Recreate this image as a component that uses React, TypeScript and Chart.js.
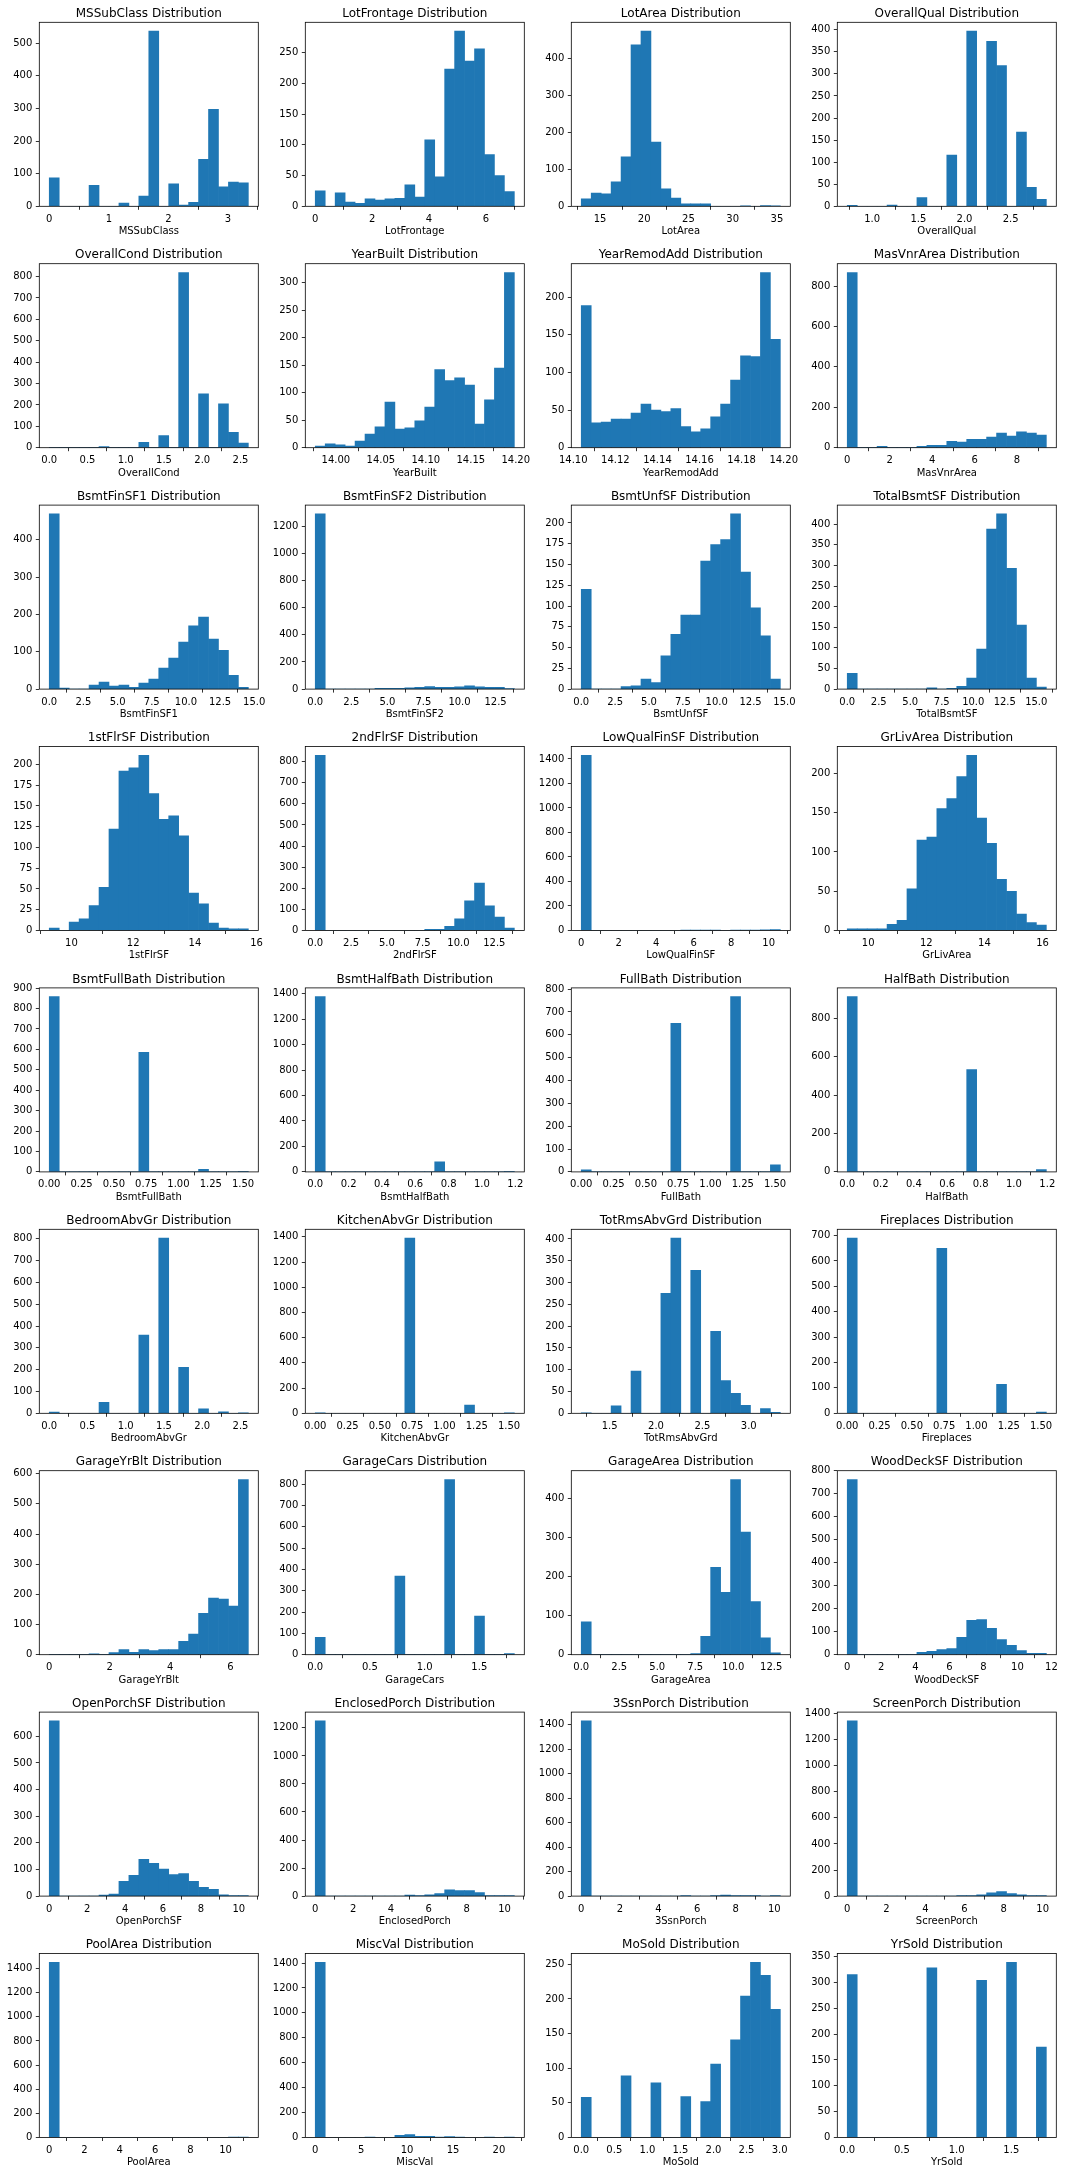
import React, { useEffect, useRef } from 'react';
import { Chart, registerables } from 'chart.js';

Chart.register(...registerables);

// ---------- data ----------
const featureNames = [
  'MSSubClass', 'LotFrontage', 'LotArea', 'OverallQual',
  'OverallCond', 'YearBuilt', 'YearRemodAdd', 'MasVnrArea',
  'BsmtFinSF1', 'BsmtFinSF2', 'BsmtUnfSF', 'TotalBsmtSF',
  '1stFlrSF', '2ndFlrSF', 'LowQualFinSF', 'GrLivArea',
  'BsmtFullBath', 'BsmtHalfBath', 'FullBath', 'HalfBath',
  'BedroomAbvGr', 'KitchenAbvGr', 'TotRmsAbvGrd', 'Fireplaces',
  'GarageYrBlt', 'GarageCars', 'GarageArea', 'WoodDeckSF',
  'OpenPorchSF', 'EnclosedPorch', '3SsnPorch', 'ScreenPorch',
  'PoolArea', 'MiscVal', 'MoSold', 'YrSold',
];

// lowest and highest bin edge of each histogram (20 bins each)
const binMin = [
  0, 0, 12.879, 0.7305,
  0, 13.9771, 14.1038, 0,
  0, 0, 0, 0,
  9.28, 0, 0, 9.28,
  0, 0, 0, 0,
  0, 0, 1.1943, 0,
  0, 0, 0, 0,
  0, 0, 0, 0,
  0, 0, 0, 0,
];
const binMax = [
  3.341, 7.0, 35.391, 2.8859,
  2.6026, 14.1984, 14.1984, 9.38,
  14.57, 13.8, 14.7, 15.8,
  15.733, 13.9, 10.62, 16.13,
  1.5409, 1.1943, 1.5409, 1.1943,
  2.6026, 1.5409, 3.3408, 1.5409,
  6.59, 1.8203, 13.1, 11.7,
  10.5, 10.52, 10.31, 10.19,
  11.29, 21.68, 3.0114, 1.8203,
];

const countsMSSubClass = [87, 0, 0, 0, 64, 0, 0, 10, 0, 31, 537, 0, 69, 4, 12, 144, 297, 60, 74, 72];
const countsLotFrontage = [25, 0, 22, 7, 5, 12, 10, 12, 13, 35, 15, 108, 48, 223, 285, 236, 256, 84, 50, 24];
const countsLotArea = [20, 36, 34, 66, 134, 437, 474, 174, 47, 22, 7, 7, 7, 0, 0, 0, 1, 0, 2, 1];
const countsOverallQual = [2, 0, 0, 0, 3, 0, 0, 20, 0, 0, 116, 0, 397, 0, 374, 319, 0, 168, 43, 16];
const countsOverallCond = [1, 0, 0, 0, 0, 5, 0, 0, 0, 25, 0, 57, 0, 819, 0, 252, 0, 205, 72, 22];
const countsYearBuilt = [3, 7, 5, 3, 12, 25, 38, 83, 34, 36, 49, 74, 142, 122, 127, 114, 43, 87, 145, 319];
const countsYearRemodAdd = [189, 33, 34, 38, 38, 46, 58, 50, 48, 52, 28, 21, 25, 41, 58, 90, 122, 121, 233, 144];
const countsMasVnrArea = [867, 0, 0, 7, 0, 0, 0, 7, 12, 12, 32, 28, 42, 42, 52, 72, 58, 78, 72, 62];
const countsBsmtFinSF1 = [469, 3, 0, 0, 11, 19, 8, 11, 5, 16, 27, 56, 83, 126, 169, 193, 134, 104, 37, 5];
const countsBsmtFinSF2 = [1293, 0, 0, 0, 0, 0, 6, 6, 6, 9, 13, 19, 13, 13, 17, 24, 17, 13, 13, 1];
const countsBsmtUnfSF = [120, 0, 0, 0, 3, 4, 12, 8, 40, 66, 89, 89, 154, 174, 180, 211, 141, 98, 64, 12];
const countsTotalBsmtSF = [38, 0, 0, 0, 0, 0, 0, 0, 3, 0, 2, 7, 27, 97, 388, 425, 293, 155, 27, 5];
const counts1stFlrSF = [3, 0, 10, 14, 30, 52, 122, 192, 196, 211, 165, 134, 138, 114, 45, 32, 9, 3, 2, 2];
const counts2ndFlrSF = [830, 0, 0, 0, 0, 0, 0, 0, 0, 0, 0, 5, 5, 20, 55, 141, 225, 117, 64, 11];
const countsLowQualFinSF = [1430, 0, 0, 0, 0, 0, 0, 0, 0, 0, 1, 1, 1, 1, 0, 2, 2, 3, 5, 7];
const countsGrLivArea = [2, 2, 2, 2, 8, 13, 53, 115, 119, 155, 168, 196, 223, 143, 111, 65, 50, 21, 10, 7];
const countsBsmtFullBath = [858, 0, 0, 0, 0, 0, 0, 0, 0, 586, 0, 0, 0, 0, 0, 13, 0, 0, 0, 1];
const countsBsmtHalfBath = [1376, 0, 0, 0, 0, 0, 0, 0, 0, 0, 0, 0, 80, 0, 0, 0, 0, 0, 0, 2];
const countsFullBath = [9, 0, 0, 0, 0, 0, 0, 0, 0, 650, 0, 0, 0, 0, 0, 767, 0, 0, 0, 31];
const countsHalfBath = [912, 0, 0, 0, 0, 0, 0, 0, 0, 0, 0, 0, 532, 0, 0, 0, 0, 0, 0, 12];
const countsBedroomAbvGr = [6, 0, 0, 0, 0, 50, 0, 0, 0, 358, 0, 803, 0, 211, 0, 21, 0, 7, 0, 1];
const countsKitchenAbvGr = [1, 0, 0, 0, 0, 0, 0, 0, 0, 1390, 0, 0, 0, 0, 0, 65, 0, 0, 0, 2];
const countsTotRmsAbvGrd = [1, 0, 0, 17, 0, 97, 0, 0, 275, 402, 0, 328, 0, 188, 75, 46, 18, 0, 11, 2];
const countsFireplaces = [690, 0, 0, 0, 0, 0, 0, 0, 0, 650, 0, 0, 0, 0, 0, 114, 0, 0, 0, 5];
const countsGarageYrBlt = [1, 0, 0, 0, 3, 0, 7, 17, 8, 17, 14, 17, 17, 44, 68, 137, 188, 184, 161, 581];
const countsGarageCars = [81, 0, 0, 0, 0, 0, 0, 0, 369, 0, 0, 0, 0, 822, 0, 0, 181, 0, 0, 5];
const countsGarageArea = [84, 0, 0, 0, 0, 0, 0, 0, 0, 0, 0, 3, 47, 224, 160, 449, 314, 136, 43, 5];
const countsWoodDeckSF = [762, 0, 0, 0, 0, 0, 0, 10, 15, 22, 27, 76, 149, 153, 115, 66, 41, 18, 6, 6];
const countsOpenPorchSF = [658, 0, 0, 0, 0, 4, 8, 55, 78, 138, 123, 101, 81, 85, 55, 33, 25, 5, 1, 2];
const countsEnclosedPorch = [1250, 0, 0, 0, 0, 0, 0, 0, 0, 8, 3, 9, 18, 45, 40, 40, 26, 3, 2, 1];
const counts3SsnPorch = [1432, 0, 0, 0, 0, 0, 0, 0, 0, 0, 1, 0, 0, 2, 9, 4, 5, 2, 0, 1];
const countsScreenPorch = [1344, 0, 0, 0, 0, 0, 0, 0, 0, 0, 0, 2, 3, 10, 26, 35, 20, 10, 3, 1];
const countsPoolArea = [1452, 0, 0, 0, 0, 0, 0, 0, 0, 0, 0, 0, 0, 0, 0, 0, 0, 0, 4, 2];
const countsMiscVal = [1406, 0, 0, 0, 0, 1, 0, 0, 17, 24, 10, 10, 2, 8, 1, 0, 0, 1, 0, 1];
const countsMoSold = [58, 0, 0, 0, 89, 0, 0, 79, 0, 0, 59, 0, 52, 106, 0, 141, 204, 253, 234, 185];
const countsYrSold = [315, 0, 0, 0, 0, 0, 0, 0, 328, 0, 0, 0, 0, 304, 0, 0, 339, 0, 0, 175];

const allCounts = [
  countsMSSubClass, countsLotFrontage, countsLotArea, countsOverallQual,
  countsOverallCond, countsYearBuilt, countsYearRemodAdd, countsMasVnrArea,
  countsBsmtFinSF1, countsBsmtFinSF2, countsBsmtUnfSF, countsTotalBsmtSF,
  counts1stFlrSF, counts2ndFlrSF, countsLowQualFinSF, countsGrLivArea,
  countsBsmtFullBath, countsBsmtHalfBath, countsFullBath, countsHalfBath,
  countsBedroomAbvGr, countsKitchenAbvGr, countsTotRmsAbvGrd, countsFireplaces,
  countsGarageYrBlt, countsGarageCars, countsGarageArea, countsWoodDeckSF,
  countsOpenPorchSF, countsEnclosedPorch, counts3SsnPorch, countsScreenPorch,
  countsPoolArea, countsMiscVal, countsMoSold, countsYrSold,
];

// ---------- tick labels ----------
const xT0123 = ['0', '1', '2', '3'];
const xT0246 = ['0', '2', '4', '6'];
const xT15to35 = ['15', '20', '25', '30', '35'];
const xT1to2p5 = ['1.0', '1.5', '2.0', '2.5'];
const xT0to2p5 = ['0.0', '0.5', '1.0', '1.5', '2.0', '2.5'];
const xTYearBuilt = ['14.00', '14.05', '14.10', '14.15', '14.20'];
const xTYearRemod = ['14.10', '14.12', '14.14', '14.16', '14.18', '14.20'];
const xT0to8 = ['0', '2', '4', '6', '8'];
const xT0to15 = ['0.0', '2.5', '5.0', '7.5', '10.0', '12.5', '15.0'];
const xT0to12p5 = ['0.0', '2.5', '5.0', '7.5', '10.0', '12.5'];
const xT10to16 = ['10', '12', '14', '16'];
const xT0to10 = ['0', '2', '4', '6', '8', '10'];
const xT0to1p5q = ['0.00', '0.25', '0.50', '0.75', '1.00', '1.25', '1.50'];
const xT0to1p2 = ['0.0', '0.2', '0.4', '0.6', '0.8', '1.0', '1.2'];
const xT1p5to3 = ['1.5', '2.0', '2.5', '3.0'];
const xT0to1p5h = ['0.0', '0.5', '1.0', '1.5'];
const xT0to12 = ['0', '2', '4', '6', '8', '10', '12'];
const xT0to20 = ['0', '5', '10', '15', '20'];
const xT0to3 = ['0.0', '0.5', '1.0', '1.5', '2.0', '2.5', '3.0'];

const xTickSets = [
  xT0123, xT0246, xT15to35, xT1to2p5,
  xT0to2p5, xTYearBuilt, xTYearRemod, xT0to8,
  xT0to15, xT0to12p5, xT0to15, xT0to15,
  xT10to16, xT0to12p5, xT0to10, xT10to16,
  xT0to1p5q, xT0to1p2, xT0to1p5q, xT0to1p2,
  xT0to2p5, xT0to1p5q, xT1p5to3, xT0to1p5q,
  xT0246, xT0to1p5h, xT0to12p5, xT0to12,
  xT0to10, xT0to10, xT0to10, xT0to10,
  xT0to10, xT0to20, xT0to3, xT0to1p5h,
];

const yT500 = ['0', '100', '200', '300', '400', '500'];
const yT250by50 = ['0', '50', '100', '150', '200', '250'];
const yT400by100 = ['0', '100', '200', '300', '400'];
const yT400by50 = ['0', '50', '100', '150', '200', '250', '300', '350', '400'];
const yT800by100 = ['0', '100', '200', '300', '400', '500', '600', '700', '800'];
const yT300by50 = ['0', '50', '100', '150', '200', '250', '300'];
const yT200by50 = ['0', '50', '100', '150', '200'];
const yT800by200 = ['0', '200', '400', '600', '800'];
const yT1200by200 = ['0', '200', '400', '600', '800', '1000', '1200'];
const yT200by25 = ['0', '25', '50', '75', '100', '125', '150', '175', '200'];
const yT1400by200 = ['0', '200', '400', '600', '800', '1000', '1200', '1400'];
const yT900by100 = ['0', '100', '200', '300', '400', '500', '600', '700', '800', '900'];
const yT700by100 = ['0', '100', '200', '300', '400', '500', '600', '700'];
const yT600by100 = ['0', '100', '200', '300', '400', '500', '600'];
const yT350by50 = ['0', '50', '100', '150', '200', '250', '300', '350'];

const yTickSets = [
  yT500, yT250by50, yT400by100, yT400by50,
  yT800by100, yT300by50, yT200by50, yT800by200,
  yT400by100, yT1200by200, yT200by25, yT400by50,
  yT200by25, yT800by100, yT1400by200, yT200by50,
  yT900by100, yT1400by200, yT800by100, yT800by200,
  yT800by100, yT1400by200, yT400by50, yT700by100,
  yT600by100, yT800by100, yT400by100, yT800by100,
  yT600by100, yT1200by200, yT1400by200, yT1400by200,
  yT1400by200, yT1400by200, yT250by50, yT350by50,
];

// ---------- layout / style ----------
const CELL_W = 266;
const ROW_PITCH = 241.4;
const CANVAS_H = 242;
const PLOT_LEFT = 39.3;
const PLOT_RIGHT = 258.3;
const PLOT_TOP = 22.3;
const PLOT_BOTTOM = 206.3;
const BAR_COLOR = '#1f77b4';
const FONT = "'DejaVu Sans', sans-serif";

const framePlugin = {
  id: 'frame',
  afterDraw(chart: any) {
    const { ctx, chartArea } = chart;
    const { left, top, right, bottom } = chartArea;
    ctx.save();
    ctx.strokeStyle = '#000';
    ctx.lineWidth = 0.8;
    ctx.strokeRect(left, top, right - left, bottom - top);
    ctx.restore();
  },
};

function makeChart(canvas: HTMLCanvasElement, i: number) {
  const row = Math.floor(i / 4);
  const top = Math.round(row * ROW_PITCH);
  const d = row * ROW_PITCH - top;
  const name = featureNames[i];
  const counts = allCounts[i];
  const lo = binMin[i];
  const hi = binMax[i];
  const n = counts.length;
  const w = (hi - lo) / n;
  const span = hi - lo;
  const xmin = lo - 0.05 * span;
  const xmax = hi + 0.05 * span;
  const ymax = 1.05 * Math.max(...counts);
  const xl = xTickSets[i].filter((s) => {
    const v = parseFloat(s);
    return v >= xmin - 1e-9 && v <= xmax + 1e-9;
  });
  const yl = yTickSets[i].filter((s) => parseFloat(s) <= ymax + 1e-9);

  const grid = {
    display: true,
    drawOnChartArea: false,
    drawTicks: true,
    tickLength: 3.5,
    tickWidth: 0.8,
    tickColor: '#000',
    color: '#000',
    lineWidth: 0.8,
  };
  const tickFont = { family: FONT, size: 10 };
  const titleShift = 1.5;

  return new Chart(canvas, {
    type: 'bar',
    data: {
      datasets: [
        {
          data: counts.map((c, k) => ({ x: lo + (k + 0.5) * w, y: c })),
          backgroundColor: BAR_COLOR,
          borderWidth: 0,
          barPercentage: 1,
          categoryPercentage: 1,
        } as any,
      ],
    },
    options: {
      animation: false,
      responsive: false,
      devicePixelRatio: 1,
      layout: { padding: { left: 0, top: 0, right: CELL_W - PLOT_RIGHT, bottom: 0 } },
      plugins: {
        legend: { display: false },
        tooltip: { enabled: false },
        title: {
          display: true,
          text: name + ' Distribution',
          fullSize: false,
          color: '#000',
          font: { family: FONT, size: 12, weight: 'normal' },
          padding: { top: PLOT_TOP - 17.2 + d + titleShift, bottom: 2.8 - titleShift },
        },
      },
      scales: {
        x: {
          type: 'linear',
          min: xmin,
          max: xmax,
          offset: false,
          grid,
          border: { display: false },
          ticks: {
            autoSkip: false,
            maxRotation: 0,
            minRotation: 0,
            padding: 3.5,
            color: '#000',
            font: tickFont,
            callback: (_v: any, idx: number) => xl[idx] ?? '',
          },
          title: {
            display: true,
            text: name,
            color: '#000',
            font: { family: FONT, size: 10 },
            padding: { top: 0, bottom: CANVAS_H - 231.7 - 6 - d },
          },
          afterBuildTicks: (axis: any) => {
            axis.ticks = xl.map((s) => ({ value: parseFloat(s) }));
          },
          afterFit: (axis: any) => {
            axis.height = CANVAS_H - (PLOT_BOTTOM + d);
            axis.paddingLeft = 0;
            axis.paddingRight = 0;
          },
        },
        y: {
          type: 'linear',
          min: 0,
          max: ymax,
          grid,
          border: { display: false },
          ticks: {
            autoSkip: false,
            padding: 3.5,
            color: '#000',
            font: tickFont,
            callback: (_v: any, idx: number) => yl[idx] ?? '',
          },
          afterBuildTicks: (axis: any) => {
            axis.ticks = yl.map((s) => ({ value: parseFloat(s) }));
          },
          afterFit: (axis: any) => {
            axis.width = PLOT_LEFT;
            axis.paddingTop = 0;
            axis.paddingBottom = 0;
          },
        },
      },
    } as any,
    plugins: [framePlugin],
  });
}

export default function App() {
  const refs = useRef<(HTMLCanvasElement | null)[]>([]);

  useEffect(() => {
    const charts: Chart[] = [];
    featureNames.forEach((_n, i) => {
      const c = refs.current[i];
      if (c) charts.push(makeChart(c, i));
    });
    return () => {
      charts.forEach((c) => c.destroy());
    };
  }, []);

  return (
    <div
      style={{
        position: 'absolute',
        left: 0,
        top: 0,
        width: 1065,
        height: 2175,
        background: '#fff',
      }}
    >
      {featureNames.map((name, i) => {
        const row = Math.floor(i / 4);
        const col = i % 4;
        return (
          <canvas
            key={name}
            ref={(el) => {
              refs.current[i] = el;
            }}
            width={CELL_W}
            height={CANVAS_H}
            style={{
              position: 'absolute',
              left: col * CELL_W,
              top: Math.round(row * ROW_PITCH),
              width: CELL_W,
              height: CANVAS_H,
            }}
          />
        );
      })}
    </div>
  );
}
